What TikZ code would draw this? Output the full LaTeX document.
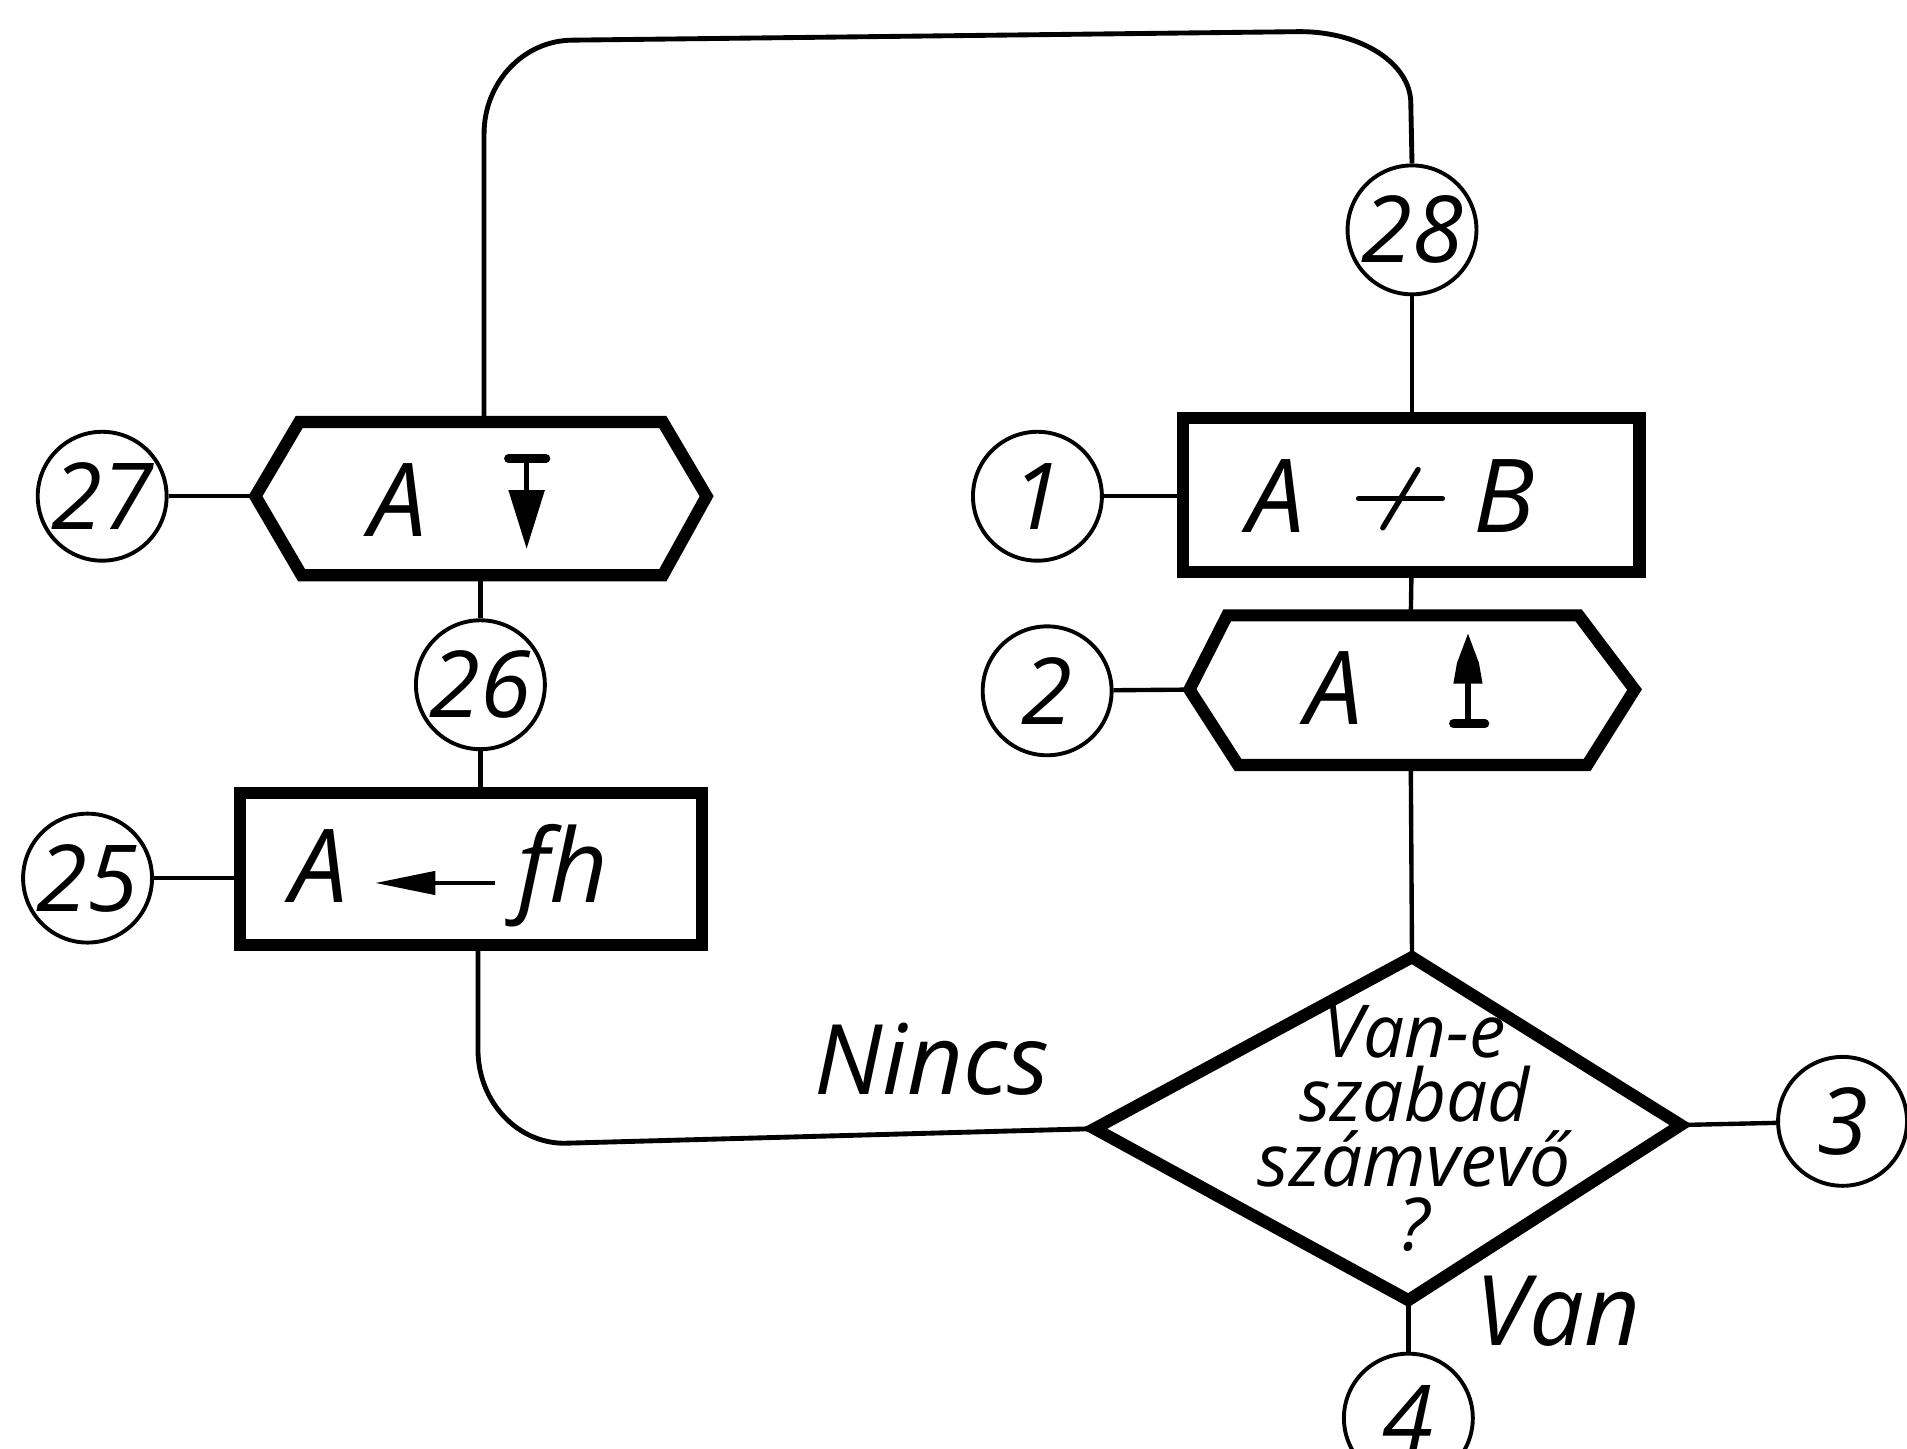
\documentclass[tikz,border=0pt]{standalone}
\usepackage{fontspec}
\setmainfont{Open Sans}
\usetikzlibrary{calc}
\begin{document}
\begin{tikzpicture}[x=0.5pt,y=-0.5pt,
  thinline/.style={line width=1.8pt},
  boldline/.style={line width=5pt, line join=miter},
  circ/.style={circle, draw, line width=1.6pt, minimum size=53pt, inner sep=0pt, font=\fontsize{38}{40}\selectfont\itshape},
  box/.style={rectangle, draw, line width=5pt, inner sep=0pt},
  big/.style={inner sep=0pt, font=\fontsize{42}{44}\selectfont\itshape, anchor=base},
  lab/.style={inner sep=0pt, font=\fontsize{40}{42}\selectfont\itshape, anchor=base},
  sym/.style={line width=2.2pt, line cap=round},
  bar/.style={line width=3.5pt, line cap=round},
]
\useasboundingbox (0,0) rectangle (1568,1191);
\clip (0,0) rectangle (1568,1191);

% circles
\node[circ] (c28) at (1161,189) {28};
\node[circ] (c27) at (84,408) {27};
\node[circ] (c1)  at (853,408) {1};
\node[circ] (c2)  at (861,568) {2};
\node[circ] (c26) at (395,563) {26};
\node[circ] (c25) at (72,722) {25};
\node[circ] (c3)  at (1515,922) {3};
\node[circ] (c4)  at (1158,1166) {4};

% rectangles
\node[box, minimum width=187.5pt, minimum height=63pt] (rAB) at (1160.5,407) {};
\node[box, minimum width=190pt, minimum height=62.5pt] (rAfh) at (387,714.5) {};

% hexagon A down
\coordinate (h27L) at (210,408);
\coordinate (h27TL) at (246,347);
\coordinate (h27TR) at (545,347);
\coordinate (h27R) at (581,408);
\coordinate (h27BR) at (545,473);
\coordinate (h27BL) at (248,473);
\coordinate (h27T) at (398,347);
\coordinate (h27B) at (398,473);
\draw[boldline] (h27L) -- (h27TL) -- (h27TR) -- (h27R) -- (h27BR) -- (h27BL) -- cycle;

% hexagon A up
\coordinate (h2L) at (978,567);
\coordinate (h2TL) at (1009,506);
\coordinate (h2TR) at (1298,506);
\coordinate (h2R) at (1344,567);
\coordinate (h2BR) at (1305,629);
\coordinate (h2BL) at (1018,629);
\coordinate (h2T) at (1160,506);
\coordinate (h2B) at (1160,629);
\draw[boldline] (h2L) -- (h2TL) -- (h2TR) -- (h2R) -- (h2BR) -- (h2BL) -- cycle;

% diamond
\coordinate (dL) at (900,928);
\coordinate (dT) at (1161,787);
\coordinate (dR) at (1382,925);
\coordinate (dB) at (1158,1069);
\draw[boldline] (dL) -- (dT) -- (dR) -- (dB) -- cycle;
\node[inner sep=0pt, anchor=north, align=center, font=\fontsize{30}{26.5}\selectfont\itshape] (dq) at (1163,826) {Van-e\\szabad\\számvevő\\?};

% texts in boxes
\node[big] (tA27) at (327,441) {A};
\node[big] (tAab) at (1049,438) {A};
\node[big] (tBab) at (1237,438) {B};
\node[big] (tA2) at (1097,596) {A};
\node[big] (tAfh) at (262,742) {A};
\node[big] (tfh) at (463,742) {fh};

% symbols
% down arrow from bar
\draw[bar] (418,377) -- (449,377);
\draw[line width=2.2pt] (433,377) -- (433,410);
\fill (418,403) -- (448,403) -- (433,451) -- cycle;
% up arrow from bar
\draw[bar] (1195,595) -- (1221,595);
\draw[line width=2.6pt] (1207,595) -- (1207,555);
\fill (1207,521) -- (1216,545) -- (1219,562) -- (1195,562) -- (1198,545) -- cycle;
% not-to symbol
\draw[sym] (1117,410) -- (1186,410);
\draw[sym] (1137,434) -- (1166,386);
% left arrow
\fill (309,726) -- (358,716) -- (358,736) -- cycle;
\draw[line width=1.8pt] (350,726) -- (407,726);

% labels
\node[lab] (nincs) at (766,900) {Nincs};
\node[lab] (van) at (1281,1106) {Van};

% connectors
\draw[thinline] (c27) -- (h27L);
\draw[thinline] (c1.east) -- (c1.east -| rAB.west);
\draw[thinline] (c2) -- (h2L);
\draw[thinline] (c25.east) -- (c25.east -| rAfh.west);
\draw[thinline] (c28.south) -- (c28.south |- rAB.north);
\draw[thinline] (rAB.south) -- (h2T);
\draw[thinline] (h2B) -- (dT);
\draw[thinline] (dR) -- (c3);
\draw[thinline] (dB) -- (c4);
\draw[thinline] (c26.north |- h27B) -- (c26.north);
\draw[thinline] (c26.south) -- (c26.south |- rAfh.north);
\draw[line width=2pt] (h27T) -- (398,110) .. controls (398,67.5) and (430.7,33) .. (471,33) -- (1069,26) .. controls (1119,26) and (1160,52) .. (1160,85) -- (c28.north);
\coordinate (fhB) at (393,777);
\draw[line width=2pt] (fhB) -- (393,863) .. controls (393,905.5) and (425,940) .. (464,940) -- (dL);
\end{tikzpicture}
\end{document}
